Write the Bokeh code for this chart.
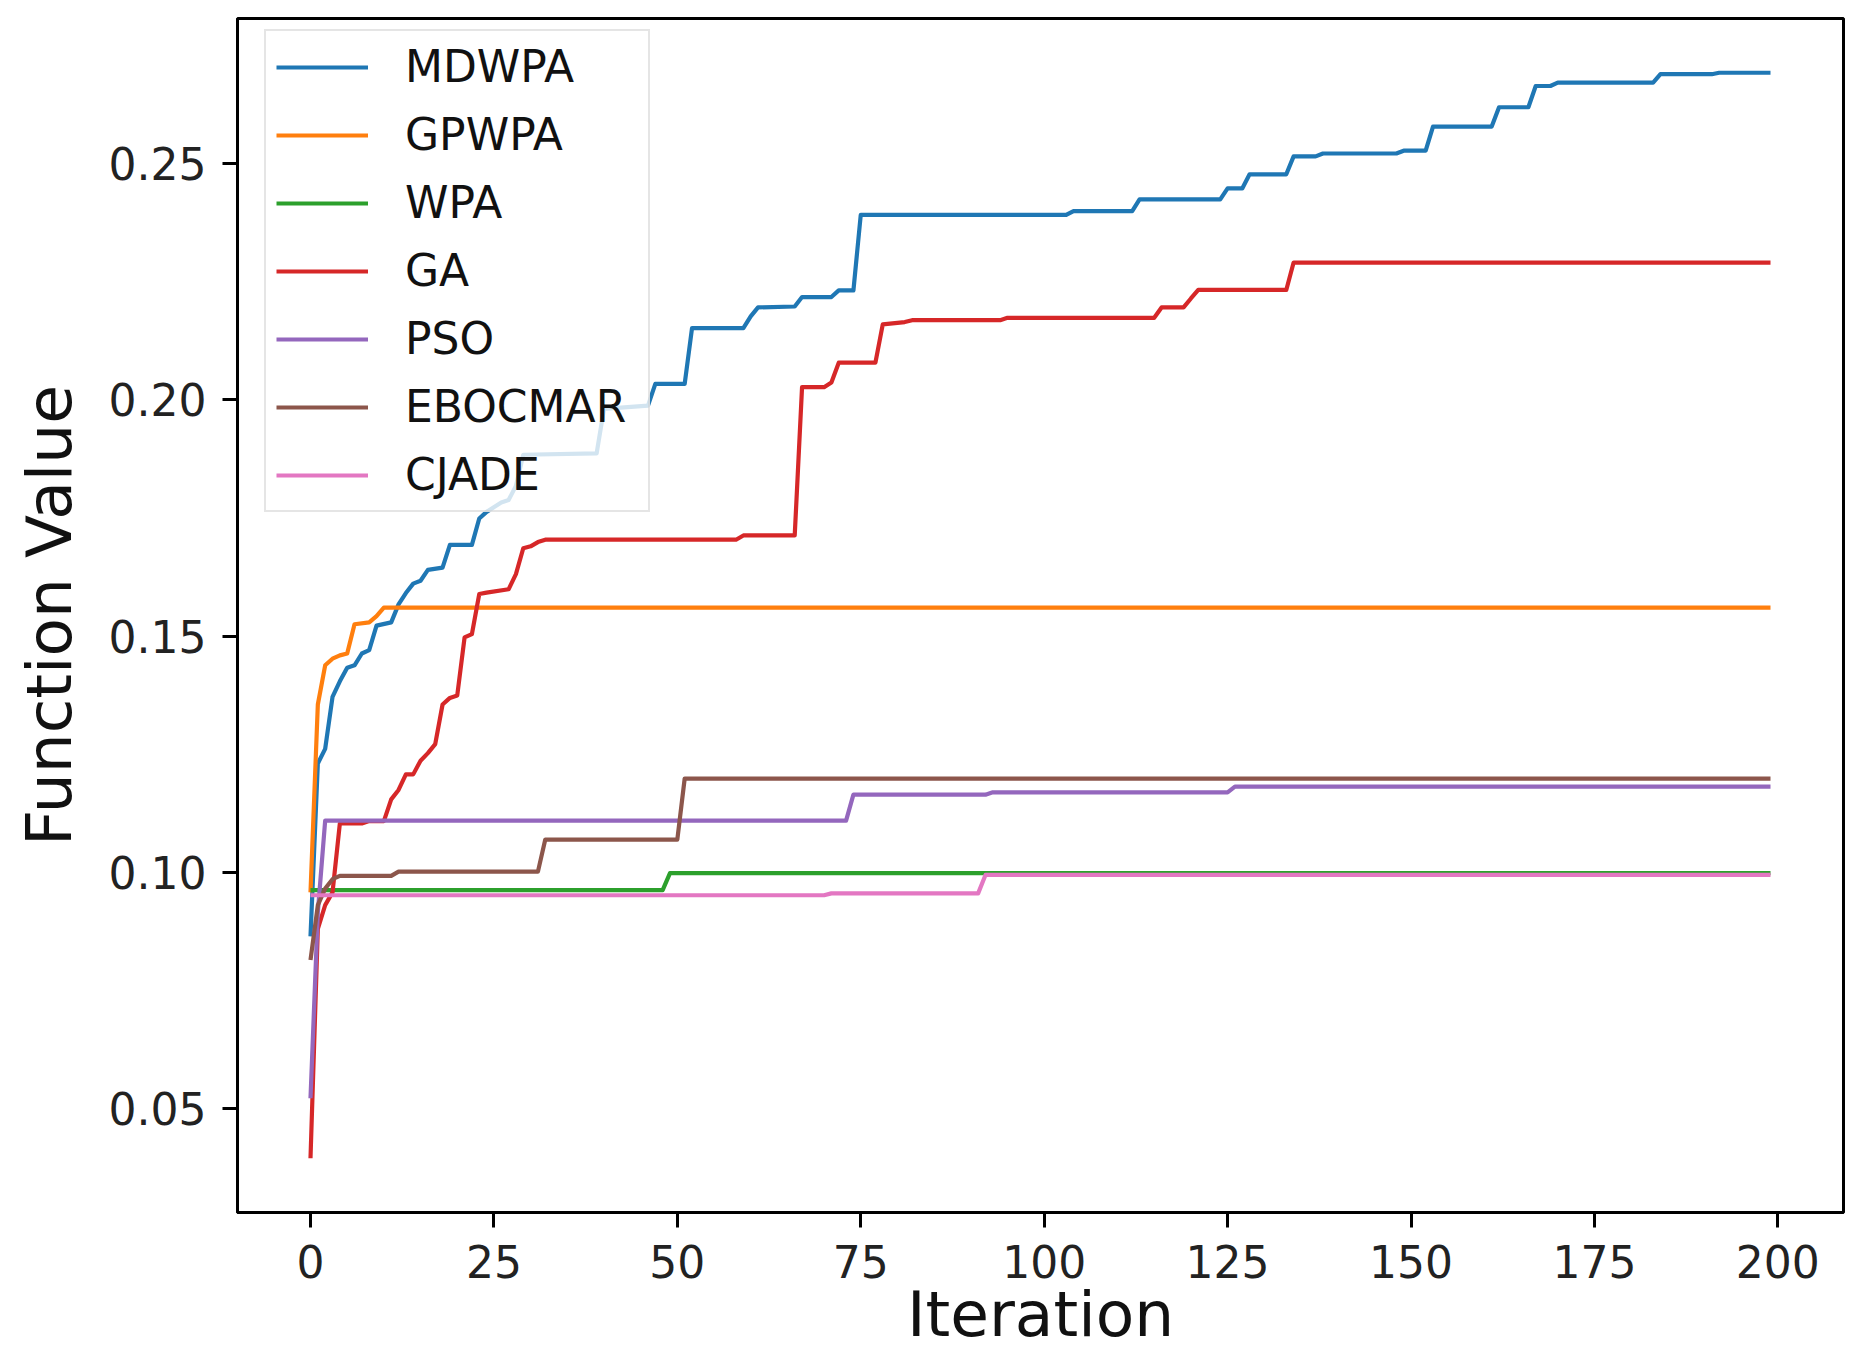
from bokeh.plotting import figure
from bokeh.models import Range1d, FixedTicker, PrintfTickFormatter, Legend, LegendItem
from bokeh.embed import file_html
from bokeh.resources import INLINE

# Vertices (iteration, best function value)
MDWPA_x = [0, 1, 2, 3, 4, 5, 6, 7, 8, 9, 11, 12, 13, 14, 15, 16, 18, 19, 22, 23, 24, 26, 27, 28, 29,
           39, 40, 46, 47, 51, 52, 59, 60, 61, 66, 67, 71, 72, 74, 75, 103, 104, 112, 113, 124, 125,
           127, 128, 133, 134, 137, 138, 148, 149, 152, 153, 161, 162, 166, 167, 169, 170, 183, 184,
           191, 192, 199]
MDWPA_y = [0.0864, 0.1230, 0.1261, 0.1371, 0.1404, 0.1433, 0.1438, 0.1463, 0.1470, 0.1522, 0.1529,
           0.1567, 0.1591, 0.1611, 0.1617, 0.1640, 0.1645, 0.1693, 0.1693, 0.1749, 0.1763, 0.1783,
           0.1788, 0.1818, 0.1884, 0.1887, 0.1981, 0.1988, 0.2034, 0.2034, 0.2152, 0.2152, 0.2177,
           0.2196, 0.2198, 0.2218, 0.2218, 0.2232, 0.2232, 0.2392, 0.2392, 0.2400, 0.2400, 0.2425,
           0.2425, 0.2448, 0.2448, 0.2478, 0.2478, 0.2516, 0.2516, 0.2522, 0.2522, 0.2528, 0.2528,
           0.2579, 0.2579, 0.2620, 0.2620, 0.2665, 0.2665, 0.2672, 0.2672, 0.2690, 0.2690, 0.2693,
           0.2693]

GPWPA_x = [0, 1, 2, 3, 4, 5, 6, 8, 9, 10, 199]
GPWPA_y = [0.0957, 0.1355, 0.1438, 0.1452, 0.1459, 0.1463, 0.1525, 0.1529, 0.1542, 0.1560, 0.1560]

WPA_x = [0, 48, 49, 199]
WPA_y = [0.0962, 0.0962, 0.0998, 0.0998]

GA_x = [0, 1, 2, 3, 4, 7, 8, 10, 11, 12, 13, 14, 15, 16, 17, 18, 19, 20, 21, 22, 23, 24, 27, 28,
        29, 30, 31, 32, 58, 59, 66, 67, 70, 71, 72, 77, 78, 81, 82, 94, 95, 115, 116, 119, 120,
        121, 133, 134, 199]
GA_y = [0.0394, 0.0880, 0.0930, 0.0957, 0.1103, 0.1103, 0.1108, 0.1108, 0.1154, 0.1174, 0.1207,
        0.1207, 0.1236, 0.1252, 0.1271, 0.1355, 0.1369, 0.1374, 0.1497, 0.1504, 0.1589, 0.1592,
        0.1599, 0.1631, 0.1686, 0.1690, 0.1699, 0.1704, 0.1704, 0.1713, 0.1713, 0.2027, 0.2027,
        0.2037, 0.2079, 0.2079, 0.2160, 0.2165, 0.2169, 0.2169, 0.2174, 0.2174, 0.2196, 0.2196,
        0.2215, 0.2233, 0.2233, 0.2291, 0.2291]

PSO_x = [0, 1, 2, 73, 74, 92, 93, 125, 126, 199]
PSO_y = [0.0521, 0.0915, 0.1109, 0.1109, 0.1164, 0.1164, 0.1169, 0.1169, 0.1181, 0.1181]

EBOCMAR_x = [0, 1, 2, 3, 4, 11, 12, 31, 32, 50, 51, 199]
EBOCMAR_y = [0.0814, 0.0930, 0.0965, 0.0985, 0.0992, 0.0992, 0.1001, 0.1001, 0.1069, 0.1069,
             0.1198, 0.1198]

CJADE_x = [0, 70, 71, 91, 92, 199]
CJADE_y = [0.0951, 0.0951, 0.0955, 0.0955, 0.0994, 0.0994]

series_names = ["MDWPA", "GPWPA", "WPA", "GA", "PSO", "EBOCMAR", "CJADE"]
series_x = [MDWPA_x, GPWPA_x, WPA_x, GA_x, PSO_x, EBOCMAR_x, CJADE_x]
series_y = [MDWPA_y, GPWPA_y, WPA_y, GA_y, PSO_y, EBOCMAR_y, CJADE_y]
colors = ["#1f77b4", "#ff7f0e", "#2ca02c", "#d62728", "#9467bd", "#8c564b", "#e377c2"]

x_ticks = [0, 25, 50, 75, 100, 125, 150, 175, 200]
y_ticks = [0.05, 0.10, 0.15, 0.20, 0.25]

# axis ranges with 5% padding around the data (matplotlib style)
all_x = [v for s in series_x for v in s]
all_y = [v for s in series_y for v in s]
xpad = 0.05 * (max(all_x) - min(all_x))
ypad = 0.05 * (max(all_y) - min(all_y))
x0, x1 = min(all_x) - xpad, max(all_x) + xpad
y0, y1 = min(all_y) - ypad, max(all_y) + ypad

FONT = "DejaVu Sans"

p = figure(width=1848, height=1356, output_backend="svg", toolbar_location=None,
           x_range=Range1d(x0, x1), y_range=Range1d(y0, y1),
           min_border_left=237, min_border_right=5, min_border_top=18, min_border_bottom=144)

p.xgrid.visible = False
p.ygrid.visible = False
p.outline_line_color = "black"
p.outline_line_width = 3
p.background_fill_color = "white"
p.border_fill_color = "white"

items = []
for name, xs, ys, c in zip(series_names, series_x, series_y, colors):
    r = p.line(xs, ys, line_color=c, line_width=4.2, line_join="round")
    items.append(LegendItem(label=name, renderers=[r]))

for ax in (p.xaxis[0], p.yaxis[0]):
    ax.axis_line_color = "black"
    ax.axis_line_width = 3
    ax.major_tick_line_color = "black"
    ax.major_tick_line_width = 3
    ax.major_tick_out = 15
    ax.major_tick_in = 0
    ax.minor_tick_line_color = None
    ax.major_label_text_font = FONT
    ax.major_label_text_font_size = "44px"
    ax.major_label_text_color = "#222222"
    ax.axis_label_text_font = FONT
    ax.axis_label_text_font_size = "63px"
    ax.axis_label_text_font_style = "normal"
    ax.axis_label_text_color = "#111111"

p.xaxis[0].ticker = FixedTicker(ticks=x_ticks)
p.yaxis[0].ticker = FixedTicker(ticks=y_ticks)
p.yaxis[0].formatter = PrintfTickFormatter(format="%.2f")
p.xaxis[0].axis_label = "Iteration"
p.yaxis[0].axis_label = "Function Value"
p.xaxis[0].major_label_standoff = 17
p.yaxis[0].major_label_standoff = 16
p.xaxis[0].axis_label_standoff = -3
p.yaxis[0].axis_label_standoff = 20

legend = Legend(items=items, location=(27, 700))
legend.margin = 0
legend.padding = 10
legend.spacing = 17
legend.glyph_width = 92
legend.glyph_height = 40
legend.label_height = 40
legend.label_width = 233
legend.label_standoff = 37
legend.label_text_font = FONT
legend.label_text_font_size = "44px"
legend.label_text_color = "#111111"
legend.background_fill_color = "white"
legend.background_fill_alpha = 0.8
legend.border_line_color = "#cccccc"
legend.border_line_width = 2
p.add_layout(legend, "center")

open("out.html", "w").write(file_html(p, INLINE))
